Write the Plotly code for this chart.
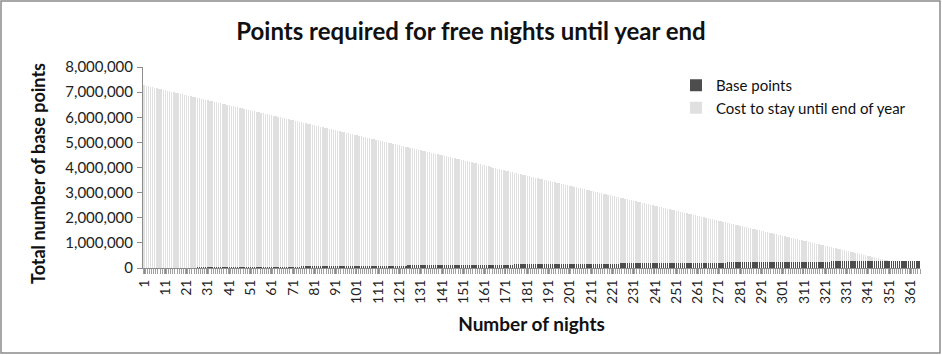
import plotly.graph_objects as go

# Nights 1..365
nights = list(range(1, 366))

# Base points (thousands), 10 nights per row
base_points_k = [
    1, 2, 2, 3, 4, 5, 6, 6, 7, 8,
    9, 10, 10, 11, 12, 13, 14, 14, 15, 16,
    17, 18, 18, 19, 20, 21, 22, 22, 23, 24,
    25, 26, 26, 27, 28, 29, 30, 30, 31, 32,
    33, 34, 34, 35, 36, 37, 38, 38, 39, 40,
    41, 42, 42, 43, 44, 45, 46, 46, 47, 48,
    49, 50, 50, 51, 52, 53, 54, 54, 55, 56,
    57, 58, 58, 59, 60, 61, 62, 62, 63, 64,
    65, 66, 66, 67, 68, 69, 70, 70, 71, 72,
    73, 74, 74, 75, 76, 77, 78, 78, 79, 80,
    81, 82, 82, 83, 84, 85, 86, 86, 87, 88,
    89, 90, 90, 91, 92, 93, 94, 94, 95, 96,
    97, 98, 98, 99, 100, 101, 102, 102, 103, 104,
    105, 106, 106, 107, 108, 109, 110, 110, 111, 112,
    113, 114, 114, 115, 116, 117, 118, 118, 119, 120,
    121, 122, 122, 123, 124, 125, 126, 126, 127, 128,
    129, 130, 130, 131, 132, 133, 134, 134, 135, 136,
    137, 138, 138, 139, 140, 141, 142, 142, 143, 144,
    145, 146, 146, 147, 148, 149, 150, 150, 151, 152,
    153, 154, 154, 155, 156, 157, 158, 158, 159, 160,
    161, 162, 162, 163, 164, 165, 166, 166, 167, 168,
    169, 170, 170, 171, 172, 173, 174, 174, 175, 176,
    177, 178, 178, 179, 180, 181, 182, 182, 183, 184,
    185, 186, 186, 187, 188, 189, 190, 190, 191, 192,
    193, 194, 194, 195, 196, 197, 198, 198, 199, 200,
    201, 202, 202, 203, 204, 205, 206, 206, 207, 208,
    209, 210, 210, 211, 212, 213, 214, 214, 215, 216,
    217, 218, 218, 219, 220, 221, 222, 222, 223, 224,
    225, 226, 226, 227, 228, 229, 230, 230, 231, 232,
    233, 234, 234, 235, 236, 237, 238, 238, 239, 240,
    241, 242, 242, 243, 244, 245, 246, 246, 247, 248,
    249, 250, 250, 251, 252, 253, 254, 254, 255, 256,
    257, 258, 258, 259, 260, 261, 262, 262, 263, 264,
    265, 266, 266, 267, 268, 269, 270, 270, 271, 272,
    273, 274, 274, 275, 276, 277, 278, 278, 279, 280,
    281, 282, 282, 283, 284, 285, 286, 286, 287, 288,
    289, 290, 290, 291, 292,
]

# Cost to stay until end of year (thousands)
cost_k = [
    7279, 7258, 7238, 7217, 7196, 7175, 7154, 7134, 7113, 7092,
    7071, 7050, 7030, 7009, 6988, 6967, 6946, 6926, 6905, 6884,
    6863, 6842, 6822, 6801, 6780, 6759, 6738, 6718, 6697, 6676,
    6655, 6634, 6614, 6593, 6572, 6551, 6530, 6510, 6489, 6468,
    6447, 6426, 6406, 6385, 6364, 6343, 6322, 6302, 6281, 6260,
    6239, 6218, 6198, 6177, 6156, 6135, 6114, 6094, 6073, 6052,
    6031, 6010, 5990, 5969, 5948, 5927, 5906, 5886, 5865, 5844,
    5823, 5802, 5782, 5761, 5740, 5719, 5698, 5678, 5657, 5636,
    5615, 5594, 5574, 5553, 5532, 5511, 5490, 5470, 5449, 5428,
    5407, 5386, 5366, 5345, 5324, 5303, 5282, 5262, 5241, 5220,
    5199, 5178, 5158, 5137, 5116, 5095, 5074, 5054, 5033, 5012,
    4991, 4970, 4950, 4929, 4908, 4887, 4866, 4846, 4825, 4804,
    4783, 4762, 4742, 4721, 4700, 4679, 4658, 4638, 4617, 4596,
    4575, 4554, 4534, 4513, 4492, 4471, 4450, 4430, 4409, 4388,
    4367, 4346, 4326, 4305, 4284, 4263, 4242, 4222, 4201, 4180,
    4159, 4138, 4118, 4097, 4076, 4055, 4034, 4014, 3993, 3972,
    3951, 3930, 3910, 3889, 3868, 3847, 3826, 3806, 3785, 3764,
    3743, 3722, 3702, 3681, 3660, 3639, 3618, 3598, 3577, 3556,
    3535, 3514, 3494, 3473, 3452, 3431, 3410, 3390, 3369, 3348,
    3327, 3306, 3286, 3265, 3244, 3223, 3202, 3182, 3161, 3140,
    3119, 3098, 3078, 3057, 3036, 3015, 2994, 2974, 2953, 2932,
    2911, 2890, 2870, 2849, 2828, 2807, 2786, 2766, 2745, 2724,
    2703, 2682, 2662, 2641, 2620, 2599, 2578, 2558, 2537, 2516,
    2495, 2474, 2454, 2433, 2412, 2391, 2370, 2350, 2329, 2308,
    2287, 2266, 2246, 2225, 2204, 2183, 2162, 2142, 2121, 2100,
    2079, 2058, 2038, 2017, 1996, 1975, 1954, 1934, 1913, 1892,
    1871, 1850, 1830, 1809, 1788, 1767, 1746, 1726, 1705, 1684,
    1663, 1642, 1622, 1601, 1580, 1559, 1538, 1518, 1497, 1476,
    1455, 1434, 1414, 1393, 1372, 1351, 1330, 1310, 1289, 1268,
    1247, 1226, 1206, 1185, 1164, 1143, 1122, 1102, 1081, 1060,
    1039, 1018, 998, 977, 956, 935, 914, 894, 873, 852,
    831, 810, 790, 769, 748, 727, 706, 686, 665, 644,
    623, 602, 582, 561, 540, 519, 498, 478, 457, 436,
    415, 394, 374, 353, 332, 311, 290, 270, 249, 228,
    207, 186, 166, 145, 124, 103, 82, 62, 41, 20,
    0, 0, 0, 0, 0, 0, 0, 0, 0, 0,
    0, 0, 0, 0, 0,
]

x_tick_vals = list(range(1, 366, 10))
x_tick_text = [str(v) for v in x_tick_vals]
y_tick_vals = list(range(0, 8000001, 1000000))

base_points = [v * 1000 for v in base_points_k]
cost = [v * 1000 for v in cost_k]

FONT = "Lato, 'Open Sans', sans-serif"

fig = go.Figure()
fig.add_trace(go.Bar(x=nights, y=base_points, name="Base points",
                     marker=dict(color="#4d4d4d", line=dict(width=0)),
                     legendgroup="a"))
fig.add_trace(go.Bar(x=nights, y=cost, name="Cost to stay until end of year",
                     marker=dict(color="#e0e0e0", line=dict(width=0)),
                     legendgroup="b"))

L, R, T, B = 143, 22, 67, 87
W, H = 942, 355
pw, ph = W - L - R, H - T - B

fig.update_layout(
    width=W, height=H,
    margin=dict(l=L, r=R, t=T, b=B),
    barmode="stack", bargap=0.35,
    paper_bgcolor="white", plot_bgcolor="white",
    font=dict(family=FONT, color="#404040", size=13),
    title=dict(text="<b>Points required for free nights until year end</b>",
               x=0.5, xanchor="center", y=1 - 32 / H, yanchor="middle",
               font=dict(family=FONT, size=24, color="#111111")),
    showlegend=True,
    legend=dict(x=(676 - L) / pw, y=1 - (69 - T) / ph, xanchor="left", yanchor="top",
                traceorder="normal", tracegroupgap=15,
                font=dict(family=FONT, size=15, color="#111111"),
                bgcolor="rgba(0,0,0,0)", itemwidth=30),
    xaxis=dict(range=[0.5, 365.5], tickmode="array", tickvals=x_tick_vals,
               ticktext=x_tick_text, tickangle=-90, showgrid=False, zeroline=False,
               showline=True, linecolor="#8c8c8c", linewidth=1,
               ticks="outside", ticklen=5, tickcolor="#8c8c8c",
               tickfont=dict(family=FONT, size=14, color="#222222"),
               minor=dict(dtick=1, tick0=0.5, ticks="outside", ticklen=5,
                          tickcolor="#a0a0a0", showgrid=False),
               title=dict(text="<b>Number of nights</b>", standoff=14,
                          font=dict(family=FONT, size=19, color="#111111"))),
    yaxis=dict(range=[0, 8000000], tickmode="array", tickvals=y_tick_vals,
               tickformat=",d", showgrid=False, zeroline=False,
               showline=True, linecolor="#8c8c8c", linewidth=1,
               ticks="outside", ticklen=5, tickcolor="#8c8c8c", ticklabelstandoff=1,
               tickfont=dict(family=FONT, size=15, color="#222222")),
    annotations=[dict(text="<b>Total number of base points</b>", textangle=-90,
                      xref="paper", yref="paper", x=(38 - L) / pw, y=1 - (174 - T) / ph,
                      xanchor="center", yanchor="middle", showarrow=False,
                      font=dict(family=FONT, size=18, color="#111111"))],
)

# outer chart border
fig.add_shape(type="rect", xref="paper", yref="paper",
              x0=(1 - L) / pw, x1=(W - 2 - L) / pw,
              y0=-(H - 2 - T - ph) / ph, y1=1 + (T - 1) / ph,
              line=dict(color="#8a8a8a", width=1.5), fillcolor="rgba(0,0,0,0)",
              layer="below")

fig.write_html("out.html", config={"staticPlot": True})
